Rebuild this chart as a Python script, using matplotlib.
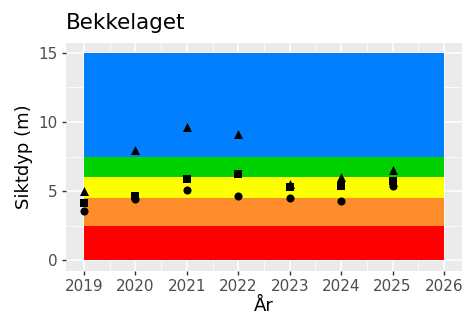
import matplotlib
matplotlib.use("Agg")
import matplotlib.pyplot as plt
from matplotlib.ticker import MultipleLocator

# siktdyp per år: maks, middel, min
years = [2019, 2020, 2021, 2022, 2023, 2024, 2025]
sikt_max = [5.0, 8.0, 9.6, 9.1, 5.5, 6.0, 6.5]
sikt_mean = [4.15, 4.65, 5.9, 6.2, 5.3, 5.4, 5.7]
sikt_min = [3.55, 4.45, 5.1, 4.65, 4.5, 4.3, 5.35]

# tilstandsklasser (nedre, øvre, farge)
band_lower = [0, 2.5, 4.5, 6, 7.5]
band_upper = [2.5, 4.5, 6, 7.5, 15]
band_colors = ["#FF0000", "#FF8C2A", "#FFFF00", "#00D200", "#0080FF"]

fig = plt.figure(figsize=(4.67, 3.23), dpi=100)
ax = fig.add_axes([66 / 467, 1 - 270.5 / 323, 396 / 467, 228 / 323])
ax.set_facecolor("#EBEBEB")

for lo, hi, col in zip(band_lower, band_upper, band_colors):
    ax.fill_between([years[0], 2026], lo, hi, color=col, lw=0, zorder=2)

ax.scatter(years, sikt_max, marker="^", s=42, color="black", lw=0, zorder=3)
ax.scatter(years, sikt_mean, marker="s", s=34, color="black", lw=0, zorder=3)
ax.scatter(years, sikt_min, marker="o", s=34, color="black", lw=0, zorder=3)

ax.set_xlim(2018.65, 2026.35)
ax.set_ylim(-0.75, 15.75)
ax.xaxis.set_major_locator(MultipleLocator(1))
ax.xaxis.set_minor_locator(MultipleLocator(0.5))
ax.yaxis.set_major_locator(MultipleLocator(5))
ax.yaxis.set_minor_locator(MultipleLocator(2.5))
ax.grid(which="major", color="white", lw=1.1, zorder=1)
ax.grid(which="minor", color="white", lw=0.55, zorder=1)
ax.set_axisbelow(True)
for sp in ax.spines.values():
    sp.set_visible(False)

ax.tick_params(which="major", length=3, width=1, color="#333333",
               labelcolor="#4D4D4D", labelsize=11, pad=3)
ax.tick_params(which="minor", length=0)

ax.set_xlabel("År", fontsize=13, labelpad=2)
ax.set_ylabel("Siktdyp (m)", fontsize=13, labelpad=4)
ax.set_title("Bekkelaget", loc="left", fontsize=15.5, pad=10)

fig.savefig("out.png", dpi=100)
